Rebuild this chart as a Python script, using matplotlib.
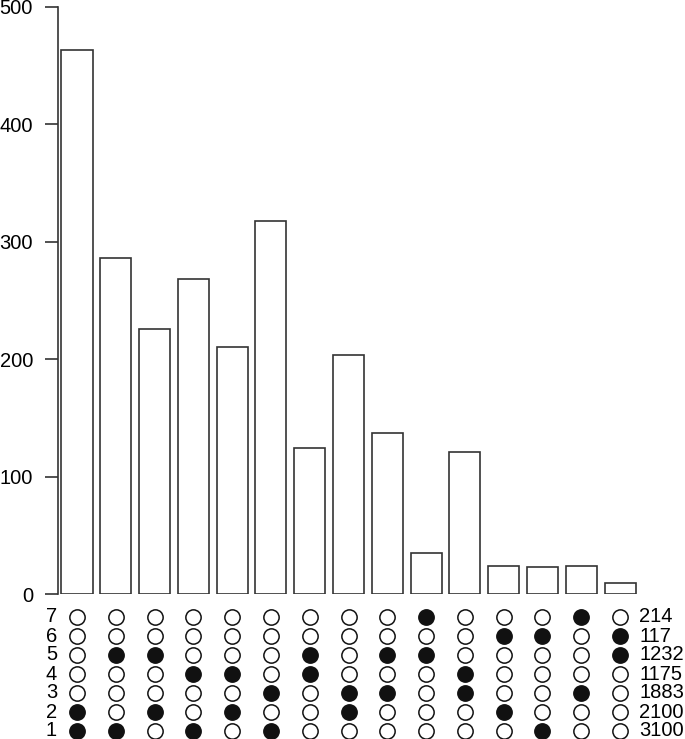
import numpy as np
import matplotlib.pyplot as plt

plt.rcParams['font.family'] = ['Liberation Sans', 'DejaVu Sans']

# intersection sizes, left to right
counts = [463, 286, 226, 268, 210, 318, 124, 204, 137, 35, 121, 24, 23, 24, 9]

# sets that take part in each intersection (rows numbered 1..7 from bottom)
members = [
    [1, 2], [1, 5], [2, 5], [1, 4], [2, 4], [1, 3], [4, 5], [2, 3],
    [3, 5], [5, 7], [3, 4], [2, 6], [1, 6], [3, 7], [5, 6],
]

set_names = [1, 2, 3, 4, 5, 6, 7]
set_sizes = [3100, 2100, 1883, 1175, 1232, 117, 214]

W, H = 685, 739
fig = plt.figure(figsize=(W / 100, H / 100), dpi=100)

x = np.arange(1, len(counts) + 1)
step = 38.79  # px between columns
x0_px = 77    # px of first column
xl = 1 - (x0_px - 58) / step
xr = 1 + (W - x0_px) / step

# bar panel
ax = fig.add_axes([58 / W, (H - 594) / H, 1 - 58 / W, (594 - 7) / H])
ax.bar(x, counts, width=0.8, color='white', edgecolor='#333333', linewidth=1.2)
ax.set_xlim(xl, xr)
ax.set_ylim(0, 500)
for s in ['top', 'right', 'bottom']:
    ax.spines[s].set_visible(False)
ax.spines['left'].set_color('#333333')
ax.spines['left'].set_linewidth(1.2)
ax.set_xticks([])
ax.set_yticks([0, 100, 200, 300, 400, 500])
ax.tick_params(axis='y', length=9.4, width=1.2, color='#333333', pad=8.6, labelsize=14.5)

# dot matrix panel
mx = fig.add_axes([58 / W, 0, 1 - 58 / W, (H - 600) / H])
mx.set_xlim(xl, xr)
mx.set_ylim(1 - 8 / 19, 1 + 131 / 19)
mx.axis('off')

for i, col in enumerate(members):
    for r in set_names:
        filled = r in col
        mx.plot(x[i], r, 'o', ms=11, mfc='#111111' if filled else 'white',
                mec='#111111', mew=1.1, clip_on=False)

for r, n in zip(set_names, set_sizes):
    mx.text(0.34, r, str(r), ha='center', va='center', fontsize=14.5, clip_on=False)
    mx.text(15.49, r, str(n), ha='left', va='center', fontsize=14.5, clip_on=False)

fig.savefig('out.png', dpi=100)
